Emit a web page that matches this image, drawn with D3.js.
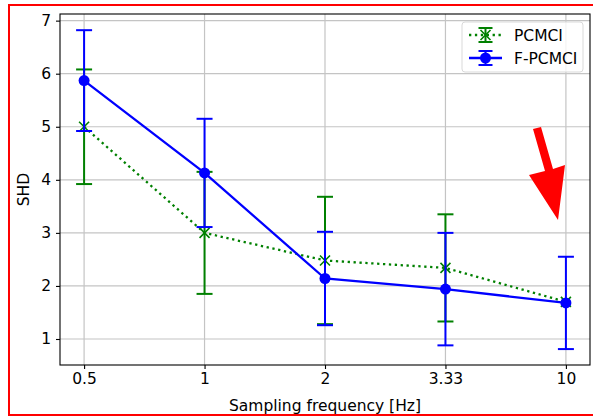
<!DOCTYPE html>
<html>
<head>
<meta charset="utf-8">
<script src="https://cdn.jsdelivr.net/npm/d3@7"></script>
<style>
  body { margin: 0; background: #fff; }
  svg { display: block; font-family: "DejaVu Sans", sans-serif; }
</style>
</head>
<body>
<div id="app"></div>
<script>
const freqs = ["0.5", "1", "2", "3.33", "10"];
const pcmciMean = [5.0, 3.0, 2.48, 2.34, 1.7];
const pcmciErr = [1.08, 1.15, 1.2, 1.01, 0];
const fpcmciMean = [5.87, 4.13, 2.14, 1.94, 1.68];
const fpcmciErr = [0.95, 1.02, 0.88, 1.06, 0.87];
const yTicks = [1, 2, 3, 4, 5, 6, 7];

const width = 593, height = 417;
const margin = {top: 14, right: 3, bottom: 52, left: 60};
const fontSize = 15.5;

const svg = d3.select("#app").append("svg")
    .attr("width", width)
    .attr("height", height)
    .attr("viewBox", [0, 0, width, height]);

const x = d3.scaleLinear()
    .domain([-0.2, freqs.length - 1 + 0.2])
    .range([margin.left, width - margin.right]);

const y = d3.scaleLinear()
    .domain([0.51, 7.125])
    .range([height - margin.bottom, margin.top]);

// grid
const grid = svg.append("g").attr("stroke", "#c4c4c4").attr("stroke-width", 1.2);
grid.selectAll(".gx").data(freqs).join("line")
    .attr("x1", (d, i) => x(i)).attr("x2", (d, i) => x(i))
    .attr("y1", y.range()[0]).attr("y2", y.range()[1]);
grid.selectAll(".gy").data(yTicks).join("line")
    .attr("y1", d => y(d)).attr("y2", d => y(d))
    .attr("x1", x.range()[0]).attr("x2", x.range()[1]);

// axes
const xAxis = d3.axisBottom(x)
    .tickValues(d3.range(freqs.length))
    .tickFormat(i => freqs[i])
    .tickSize(4).tickPadding(4);
const yAxis = d3.axisLeft(y).tickValues(yTicks).tickFormat(d3.format("d"))
    .tickSize(4).tickPadding(5);

const styleText = g => g.selectAll("text")
    .attr("font-size", fontSize).attr("fill", "#000").attr("font-family", "DejaVu Sans");

svg.append("g")
    .attr("transform", `translate(0,${height - margin.bottom})`)
    .call(xAxis)
    .call(g => g.select(".domain").remove())
    .call(g => g.selectAll("line").attr("stroke-width", 1.1))
    .call(styleText);
svg.append("g")
    .attr("transform", `translate(${margin.left},0)`)
    .call(yAxis)
    .call(g => g.select(".domain").remove())
    .call(g => g.selectAll("line").attr("stroke-width", 1.1))
    .call(styleText);

svg.append("rect")
    .attr("x", x.range()[0]).attr("y", y.range()[1])
    .attr("width", x.range()[1] - x.range()[0])
    .attr("height", y.range()[0] - y.range()[1])
    .attr("fill", "none").attr("stroke", "#000").attr("stroke-width", 1.1);

// error bar series
function drawSeries(mean, err, color, dash, marker) {
  const g = svg.append("g");
  const cap = 8;
  mean.forEach((m, i) => {
    if (!err[i]) return;
    const cx = x(i);
    g.append("line").attr("x1", cx).attr("x2", cx)
      .attr("y1", y(m - err[i])).attr("y2", y(m + err[i]))
      .attr("stroke", color).attr("stroke-width", 2);
    [m - err[i], m + err[i]].forEach(v => {
      g.append("line").attr("x1", cx - cap).attr("x2", cx + cap)
        .attr("y1", y(v)).attr("y2", y(v))
        .attr("stroke", color).attr("stroke-width", 2);
    });
  });
  const line = d3.line().x((d, i) => x(i)).y(d => y(d));
  g.append("path").attr("d", line(mean))
    .attr("fill", "none").attr("stroke", color).attr("stroke-width", 2.3)
    .attr("stroke-dasharray", dash);
  mean.forEach((m, i) => marker(g, x(i), y(m)));
}

const crossMarker = color => (g, cx, cy) => {
  const s = 5;
  g.append("path")
    .attr("d", `M${cx - s},${cy - s}L${cx + s},${cy + s}M${cx - s},${cy + s}L${cx + s},${cy - s}`)
    .attr("stroke", color).attr("stroke-width", 1.6).attr("fill", "none");
};
const dotMarker = color => (g, cx, cy) => {
  g.append("circle").attr("cx", cx).attr("cy", cy).attr("r", 5.5).attr("fill", color);
};

drawSeries(pcmciMean, pcmciErr, "green", "2.3,3.6", crossMarker("green"));
drawSeries(fpcmciMean, fpcmciErr, "blue", null, dotMarker("blue"));

// labels
svg.append("text")
    .attr("x", (x.range()[0] + x.range()[1]) / 2).attr("y", 411)
    .attr("text-anchor", "middle").attr("font-size", fontSize)
    .text("Sampling frequency [Hz]");
svg.append("text")
    .attr("transform", `translate(29,${(y.range()[0] + y.range()[1]) / 2}) rotate(-90)`)
    .attr("text-anchor", "middle").attr("font-size", fontSize)
    .text("SHD");

// legend
const legend = svg.append("g").attr("transform", "translate(462,22)");
legend.append("rect").attr("width", 121).attr("height", 50).attr("rx", 3)
    .attr("fill", "#fff").attr("fill-opacity", 0.8)
    .attr("stroke", "#d9d9d9").attr("stroke-width", 1);
const items = [
  {label: "PCMCI", color: "green", dash: "2.3,3.6", marker: crossMarker("green")},
  {label: "F-PCMCI", color: "blue", dash: null, marker: dotMarker("blue")}
];
items.forEach((it, k) => {
  const ly = 13 + k * 23;
  const lg = legend.append("g");
  lg.append("line").attr("x1", 7).attr("x2", 40).attr("y1", ly).attr("y2", ly)
    .attr("stroke", it.color).attr("stroke-width", 2.3)
    .attr("stroke-dasharray", it.dash);
  lg.append("line").attr("x1", 23.5).attr("x2", 23.5).attr("y1", ly - 7).attr("y2", ly + 7)
    .attr("stroke", it.color).attr("stroke-width", 2);
  [ly - 7, ly + 7].forEach(v => lg.append("line").attr("x1", 16.5).attr("x2", 30.5)
    .attr("y1", v).attr("y2", v).attr("stroke", it.color).attr("stroke-width", 2));
  it.marker(lg, 23.5, ly);
  lg.append("text").attr("x", 52).attr("y", ly + 5.5).attr("font-size", fontSize).text(it.label);
});

// red arrow annotation
svg.append("path")
    .attr("d", "M533,129L541,127L553,169L565,165L558,220L529,175L545,171Z")
    .attr("fill", "red");

// red frame
svg.append("rect").attr("x", 9).attr("y", 5).attr("width", 600).attr("height", 410)
    .attr("fill", "none").attr("stroke", "red").attr("stroke-width", 2);
</script>
</body>
</html>
